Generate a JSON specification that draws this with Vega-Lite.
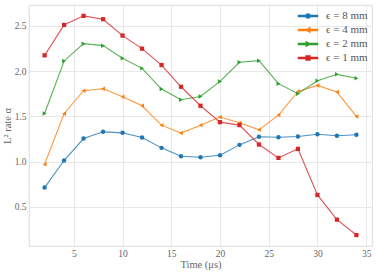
{
  "$schema": "https://vega.github.io/schema/vega-lite/v6.json",
  "width": 343,
  "height": 241,
  "autosize": {"type": "none"},
  "padding": {"left": 29, "top": 5, "right": 9, "bottom": 26},
  "background": "white",
  "config": {
    "view": {"stroke": "#e2e2e2", "strokeWidth": 1.2},
    "font": "Liberation Serif",
    "axis": {
      "domain": false,
      "ticks": false,
      "gridColor": "#e8e8e8",
      "gridWidth": 1,
      "labelFont": "Liberation Serif",
      "labelFontSize": 9.5,
      "labelColor": "#666666",
      "titleFont": "Liberation Serif",
      "titleFontSize": 10.5,
      "titleFontWeight": "normal",
      "titleColor": "#666666"
    }
  },
  "data": {
    "values": [
      {"t": 2, "eps": "ϵ = 8 mm", "rate": 0.714},
      {"t": 4, "eps": "ϵ = 8 mm", "rate": 1.013},
      {"t": 6, "eps": "ϵ = 8 mm", "rate": 1.256},
      {"t": 8, "eps": "ϵ = 8 mm", "rate": 1.33},
      {"t": 10, "eps": "ϵ = 8 mm", "rate": 1.319},
      {"t": 12, "eps": "ϵ = 8 mm", "rate": 1.268},
      {"t": 14, "eps": "ϵ = 8 mm", "rate": 1.153},
      {"t": 16, "eps": "ϵ = 8 mm", "rate": 1.061},
      {"t": 18, "eps": "ϵ = 8 mm", "rate": 1.05},
      {"t": 20, "eps": "ϵ = 8 mm", "rate": 1.072},
      {"t": 22, "eps": "ϵ = 8 mm", "rate": 1.186},
      {"t": 24, "eps": "ϵ = 8 mm", "rate": 1.275},
      {"t": 26, "eps": "ϵ = 8 mm", "rate": 1.271},
      {"t": 28, "eps": "ϵ = 8 mm", "rate": 1.279},
      {"t": 30, "eps": "ϵ = 8 mm", "rate": 1.304},
      {"t": 32, "eps": "ϵ = 8 mm", "rate": 1.286},
      {"t": 34, "eps": "ϵ = 8 mm", "rate": 1.297},
      {"t": 2, "eps": "ϵ = 4 mm", "rate": 0.972},
      {"t": 4, "eps": "ϵ = 4 mm", "rate": 1.53},
      {"t": 6, "eps": "ϵ = 4 mm", "rate": 1.784},
      {"t": 8, "eps": "ϵ = 4 mm", "rate": 1.806},
      {"t": 10, "eps": "ϵ = 4 mm", "rate": 1.718},
      {"t": 12, "eps": "ϵ = 4 mm", "rate": 1.618},
      {"t": 14, "eps": "ϵ = 4 mm", "rate": 1.404},
      {"t": 16, "eps": "ϵ = 4 mm", "rate": 1.316},
      {"t": 18, "eps": "ϵ = 4 mm", "rate": 1.404},
      {"t": 20, "eps": "ϵ = 4 mm", "rate": 1.493},
      {"t": 22, "eps": "ϵ = 4 mm", "rate": 1.43},
      {"t": 24, "eps": "ϵ = 4 mm", "rate": 1.352},
      {"t": 26, "eps": "ϵ = 4 mm", "rate": 1.515},
      {"t": 28, "eps": "ϵ = 4 mm", "rate": 1.777},
      {"t": 30, "eps": "ϵ = 4 mm", "rate": 1.843},
      {"t": 32, "eps": "ϵ = 4 mm", "rate": 1.769},
      {"t": 34, "eps": "ϵ = 4 mm", "rate": 1.5},
      {"t": 2, "eps": "ϵ = 2 mm", "rate": 1.533},
      {"t": 4, "eps": "ϵ = 2 mm", "rate": 2.113},
      {"t": 6, "eps": "ϵ = 2 mm", "rate": 2.304},
      {"t": 8, "eps": "ϵ = 2 mm", "rate": 2.282},
      {"t": 10, "eps": "ϵ = 2 mm", "rate": 2.142},
      {"t": 12, "eps": "ϵ = 2 mm", "rate": 2.031},
      {"t": 14, "eps": "ϵ = 2 mm", "rate": 1.803},
      {"t": 16, "eps": "ϵ = 2 mm", "rate": 1.685},
      {"t": 18, "eps": "ϵ = 2 mm", "rate": 1.721},
      {"t": 20, "eps": "ϵ = 2 mm", "rate": 1.887},
      {"t": 22, "eps": "ϵ = 2 mm", "rate": 2.098},
      {"t": 24, "eps": "ϵ = 2 mm", "rate": 2.116},
      {"t": 26, "eps": "ϵ = 2 mm", "rate": 1.862},
      {"t": 28, "eps": "ϵ = 2 mm", "rate": 1.751},
      {"t": 30, "eps": "ϵ = 2 mm", "rate": 1.895},
      {"t": 32, "eps": "ϵ = 2 mm", "rate": 1.965},
      {"t": 34, "eps": "ϵ = 2 mm", "rate": 1.921},
      {"t": 2, "eps": "ϵ = 1 mm", "rate": 2.175},
      {"t": 4, "eps": "ϵ = 1 mm", "rate": 2.511},
      {"t": 6, "eps": "ϵ = 1 mm", "rate": 2.611},
      {"t": 8, "eps": "ϵ = 1 mm", "rate": 2.574},
      {"t": 10, "eps": "ϵ = 1 mm", "rate": 2.393},
      {"t": 12, "eps": "ϵ = 1 mm", "rate": 2.249},
      {"t": 14, "eps": "ϵ = 1 mm", "rate": 2.068},
      {"t": 16, "eps": "ϵ = 1 mm", "rate": 1.828},
      {"t": 18, "eps": "ϵ = 1 mm", "rate": 1.618},
      {"t": 20, "eps": "ϵ = 1 mm", "rate": 1.437},
      {"t": 22, "eps": "ϵ = 1 mm", "rate": 1.404},
      {"t": 24, "eps": "ϵ = 1 mm", "rate": 1.19},
      {"t": 26, "eps": "ϵ = 1 mm", "rate": 1.042},
      {"t": 28, "eps": "ϵ = 1 mm", "rate": 1.142},
      {"t": 30, "eps": "ϵ = 1 mm", "rate": 0.633},
      {"t": 32, "eps": "ϵ = 1 mm", "rate": 0.36},
      {"t": 34, "eps": "ϵ = 1 mm", "rate": 0.19}
    ]
  },
  "encoding": {
    "x": {
      "field": "t",
      "type": "quantitative",
      "scale": {"domain": [0.4, 35.6], "nice": false, "zero": false},
      "axis": {"values": [5, 10, 15, 20, 25, 30, 35], "title": "Time (μs)", "labelPadding": 2, "titlePadding": 2, "labelFlush": false}
    },
    "y": {
      "field": "rate",
      "type": "quantitative",
      "scale": {"domain": [0.069, 2.731], "nice": false, "zero": false},
      "axis": {"values": [0.5, 1.0, 1.5, 2.0, 2.5], "format": ".1f", "title": "L² rate α", "labelPadding": 3, "titlePadding": 2, "labelFlush": false}
    }
  },
  "layer": [
    {
      "mark": {"type": "point", "filled": true, "size": 1, "opacity": 1},
      "encoding": {
        "color": {
          "field": "eps", "type": "nominal",
          "scale": {"domain": ["ϵ = 8 mm", "ϵ = 4 mm", "ϵ = 2 mm", "ϵ = 1 mm"], "range": ["#1f77b4", "#ff7f0e", "#2ca02c", "#d62728"]},
          "legend": {
            "title": null,
            "orient": "none",
            "legendX": 273,
            "legendY": 5,
            "padding": 0,
            "symbolSize": 100,
            "symbolOpacity": 1,
            "labelOffset": 12,
            "labelFont": "Liberation Serif",
            "labelFontSize": 11,
            "labelColor": "#555555",
            "rowPadding": 3
          }
        },
        "shape": {
          "field": "eps", "type": "nominal",
          "scale": {
            "domain": ["ϵ = 8 mm", "ϵ = 4 mm", "ϵ = 2 mm", "ϵ = 1 mm"],
            "range": [
              "M-1.9,-0.08H1.9V0.08H-1.9ZM0.4,0A0.4,0.4 0 1 1 -0.4,0A0.4,0.4 0 1 1 0.4,0Z",
              "M-1.9,-0.08H1.9V0.08H-1.9ZM-0.4,0L0.35,-0.4L0.35,0.4Z",
              "M-1.9,-0.08H1.9V0.08H-1.9ZM0.4,0L-0.35,-0.4L-0.35,0.4Z",
              "M-1.9,-0.08H1.9V0.08H-1.9ZM-0.38,-0.38H0.38V0.38H-0.38Z"
            ]
          }
        }
      }
    },
    {
      "mark": {"type": "line", "strokeWidth": 1.1, "opacity": 0.8},
      "encoding": {
        "stroke": {
          "field": "eps", "type": "nominal", "legend": null,
          "scale": {"domain": ["ϵ = 8 mm", "ϵ = 4 mm", "ϵ = 2 mm", "ϵ = 1 mm"], "range": ["#1f77b4", "#ff7f0e", "#2ca02c", "#d62728"]}
        }
      }
    },
    {
      "transform": [{"filter": "datum.eps === 'ϵ = 8 mm'"}],
      "mark": {"type": "point", "filled": true, "size": 20, "opacity": 1, "shape": "circle", "color": "#1f77b4"}
    },
    {
      "transform": [{"filter": "datum.eps === 'ϵ = 4 mm'"}],
      "mark": {"type": "point", "filled": true, "size": 20, "opacity": 1, "shape": "triangle-left", "color": "#ff7f0e"}
    },
    {
      "transform": [{"filter": "datum.eps === 'ϵ = 2 mm'"}],
      "mark": {"type": "point", "filled": true, "size": 20, "opacity": 1, "shape": "triangle-right", "color": "#2ca02c"}
    },
    {
      "transform": [{"filter": "datum.eps === 'ϵ = 1 mm'"}],
      "mark": {"type": "point", "filled": true, "size": 18, "opacity": 1, "shape": "square", "color": "#d62728"}
    }
  ]
}
